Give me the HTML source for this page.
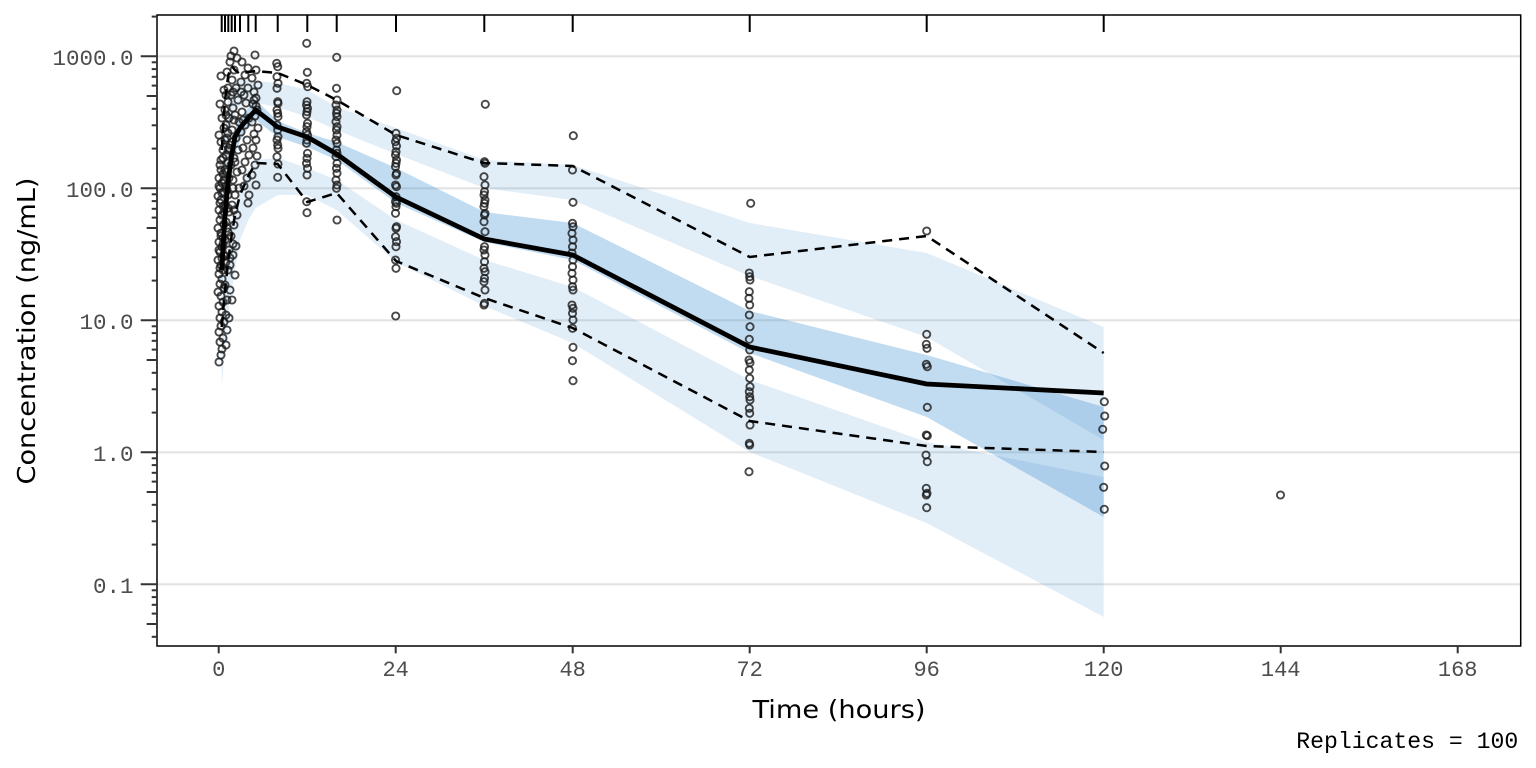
<!DOCTYPE html>
<html><head><meta charset="utf-8"><style>
html,body{margin:0;padding:0;background:#fff;}
svg{display:block;}
.p{fill:none;stroke:#1a1a1a;stroke-opacity:.8;stroke-width:1.9;}
.yt{font-family:"Liberation Mono",monospace;font-size:22.5px;fill:#4d4d4d;text-anchor:end;}
.xt{font-family:"Liberation Mono",monospace;font-size:22px;fill:#4d4d4d;text-anchor:middle;}
.ttl{font-family:"DejaVu Sans","Liberation Sans",sans-serif;font-size:25px;fill:#000;text-anchor:middle;}
</style></head><body>
<svg width="1536" height="768" viewBox="0 0 1536 768" xmlns="http://www.w3.org/2000/svg">
<rect x="0" y="0" width="1536" height="768" fill="#fff"/>
<g stroke="#e3e3e3" stroke-width="2.2">
<line x1="157" x2="1520.7" y1="56.3" y2="56.3"/>
<line x1="157" x2="1520.7" y1="188.3" y2="188.3"/>
<line x1="157" x2="1520.7" y1="320.3" y2="320.3"/>
<line x1="157" x2="1520.7" y1="452.3" y2="452.3"/>
<line x1="157" x2="1520.7" y1="584.3" y2="584.3"/>
</g>
<g fill="#3388cc">
<polygon fill-opacity="0.15" points="221.7,180 225,130 228.3,100 231.7,88 235,82 240,80 248.3,80 255.7,81 277.7,83 307.3,90 336.7,107 396,128 484.3,160 572.7,165 749.7,223 926.7,253 1103.7,327 1103.7,440 926.7,337 749.7,276 572.7,200 484.3,188 396,154 336.7,130 307.3,117 277.7,107 255.7,103 248.3,104 240,106 235,112 231.7,125 228.3,150 225,185 221.7,240"/>
<polygon fill-opacity="0.3" points="221.7,230 225,195 228.3,165 231.7,145 235,128 240,118 248.3,108 255.7,100 277.7,121 307.3,133 336.7,142 396,168 484.3,212 572.7,223 749.7,311 926.7,355 1103.7,407 1103.7,517 926.7,417 749.7,353 572.7,260 484.3,242 396,203 336.7,160 307.3,147 277.7,137 255.7,120 248.3,128 240,140 235,155 231.7,175 228.3,205 225,245 221.7,300"/>
<polygon fill-opacity="0.15" points="221.7,300 225,265 228.3,240 231.7,220 235,205 240,188 248.3,170 255.7,160 277.7,158 307.3,168 336.7,180 396,220 484.3,260 572.7,287 749.7,380 926.7,442 1103.7,477 1103.7,617 926.7,523 749.7,452 572.7,343 484.3,306 396,262 336.7,210 307.3,195 277.7,195 255.7,208 248.3,220 240,240 235,270 231.7,290 228.3,312 225,345 221.7,388"/>
</g>
<g class="p">
<circle r="3.6" cx="219" cy="362"/><circle r="3.6" cx="221" cy="355"/><circle r="3.6" cx="222" cy="349"/><circle r="3.6" cx="220" cy="342"/><circle r="3.6" cx="223" cy="338"/><circle r="3.6" cx="219" cy="332"/><circle r="3.6" cx="221" cy="326"/><circle r="3.6" cx="224" cy="322"/><circle r="3.6" cx="220" cy="318"/><circle r="3.6" cx="222" cy="312"/><circle r="3.6" cx="219" cy="306"/><circle r="3.6" cx="223" cy="302"/><circle r="3.6" cx="221" cy="296"/><circle r="3.6" cx="218" cy="292"/><circle r="3.6" cx="224" cy="288"/><circle r="3.6" cx="220" cy="284"/><circle r="3.6" cx="222" cy="279"/><circle r="3.6" cx="219" cy="274"/><circle r="3.6" cx="223" cy="270"/><circle r="3.6" cx="221" cy="265"/><circle r="3.6" cx="218" cy="260"/><circle r="3.6" cx="224" cy="256"/><circle r="3.6" cx="220" cy="252"/><circle r="3.6" cx="222" cy="247"/><circle r="3.6" cx="219" cy="242"/><circle r="3.6" cx="223" cy="238"/><circle r="3.6" cx="221" cy="233"/><circle r="3.6" cx="218" cy="228"/><circle r="3.6" cx="224" cy="224"/><circle r="3.6" cx="220" cy="220"/><circle r="3.6" cx="222" cy="215"/><circle r="3.6" cx="219" cy="210"/><circle r="3.6" cx="223" cy="206"/><circle r="3.6" cx="221" cy="200"/><circle r="3.6" cx="218" cy="196"/><circle r="3.6" cx="224" cy="192"/><circle r="3.6" cx="220" cy="188"/><circle r="3.6" cx="222" cy="183"/><circle r="3.6" cx="219" cy="178"/><circle r="3.6" cx="223" cy="174"/><circle r="3.6" cx="221" cy="170"/>
<circle r="3.6" cx="220" cy="268"/><circle r="3.6" cx="222" cy="258"/><circle r="3.6" cx="219" cy="250"/><circle r="3.6" cx="223" cy="244"/><circle r="3.6" cx="221" cy="236"/><circle r="3.6" cx="224" cy="212"/><circle r="3.6" cx="220" cy="203"/><circle r="3.6" cx="222" cy="193"/><circle r="3.6" cx="219" cy="186"/><circle r="3.6" cx="224" cy="180"/><circle r="3.6" cx="220" cy="165"/><circle r="3.6" cx="223" cy="158"/><circle r="3.6" cx="221" cy="142"/><circle r="3.6" cx="224" cy="128"/>
<circle r="3.6" cx="226" cy="345"/><circle r="3.6" cx="227" cy="330"/><circle r="3.6" cx="226" cy="315"/><circle r="3.6" cx="229" cy="318"/><circle r="3.6" cx="227" cy="300"/><circle r="3.6" cx="225" cy="285"/><circle r="3.6" cx="228" cy="270"/><circle r="3.6" cx="226" cy="262"/><circle r="3.6" cx="229" cy="250"/><circle r="3.6" cx="225" cy="240"/><circle r="3.6" cx="228" cy="232"/><circle r="3.6" cx="226" cy="222"/><circle r="3.6" cx="229" cy="212"/><circle r="3.6" cx="225" cy="205"/><circle r="3.6" cx="228" cy="195"/><circle r="3.6" cx="226" cy="186"/><circle r="3.6" cx="229" cy="178"/><circle r="3.6" cx="225" cy="170"/><circle r="3.6" cx="228" cy="163"/><circle r="3.6" cx="226" cy="155"/><circle r="3.6" cx="229" cy="148"/><circle r="3.6" cx="225" cy="140"/><circle r="3.6" cx="228" cy="133"/><circle r="3.6" cx="226" cy="125"/><circle r="3.6" cx="229" cy="118"/><circle r="3.6" cx="225" cy="110"/><circle r="3.6" cx="228" cy="102"/><circle r="3.6" cx="226" cy="95"/><circle r="3.6" cx="223" cy="150"/><circle r="3.6" cx="221" cy="160"/><circle r="3.6" cx="219" cy="135"/><circle r="3.6" cx="222" cy="118"/><circle r="3.6" cx="220" cy="104"/><circle r="3.6" cx="224" cy="90"/><circle r="3.6" cx="221" cy="76"/><circle r="3.6" cx="230" cy="258"/><circle r="3.6" cx="233" cy="244"/><circle r="3.6" cx="232" cy="300"/><circle r="3.6" cx="230" cy="290"/>
<circle r="3.6" cx="227" cy="228"/><circle r="3.6" cx="228" cy="208"/><circle r="3.6" cx="227" cy="190"/><circle r="3.6" cx="226" cy="172"/><circle r="3.6" cx="228" cy="150"/><circle r="3.6" cx="227" cy="138"/><circle r="3.6" cx="226" cy="115"/><circle r="3.6" cx="228" cy="88"/><circle r="3.6" cx="227" cy="72"/>
<circle r="3.6" cx="231" cy="56"/><circle r="3.6" cx="234" cy="51"/><circle r="3.6" cx="230" cy="62"/><circle r="3.6" cx="234" cy="70"/><circle r="3.6" cx="237" cy="58"/><circle r="3.6" cx="232" cy="80"/><circle r="3.6" cx="236" cy="88"/><circle r="3.6" cx="231" cy="95"/><circle r="3.6" cx="238" cy="100"/><circle r="3.6" cx="233" cy="108"/><circle r="3.6" cx="235" cy="115"/><circle r="3.6" cx="239" cy="122"/><circle r="3.6" cx="232" cy="130"/><circle r="3.6" cx="236" cy="138"/><circle r="3.6" cx="230" cy="145"/><circle r="3.6" cx="238" cy="150"/><circle r="3.6" cx="234" cy="158"/><circle r="3.6" cx="231" cy="165"/><circle r="3.6" cx="237" cy="172"/><circle r="3.6" cx="233" cy="180"/><circle r="3.6" cx="239" cy="188"/><circle r="3.6" cx="235" cy="195"/><circle r="3.6" cx="232" cy="205"/><circle r="3.6" cx="237" cy="215"/><circle r="3.6" cx="234" cy="225"/><circle r="3.6" cx="231" cy="236"/><circle r="3.6" cx="236" cy="246"/><circle r="3.6" cx="233" cy="255"/><circle r="3.6" cx="230" cy="265"/><circle r="3.6" cx="235" cy="275"/>
<circle r="3.6" cx="233" cy="92"/><circle r="3.6" cx="234" cy="120"/><circle r="3.6" cx="232" cy="142"/><circle r="3.6" cx="235" cy="162"/><circle r="3.6" cx="233" cy="188"/><circle r="3.6" cx="234" cy="210"/>
<circle r="3.6" cx="242" cy="62"/><circle r="3.6" cx="245" cy="75"/><circle r="3.6" cx="241" cy="82"/><circle r="3.6" cx="248" cy="88"/><circle r="3.6" cx="244" cy="95"/><circle r="3.6" cx="246" cy="103"/><circle r="3.6" cx="242" cy="112"/><circle r="3.6" cx="249" cy="118"/><circle r="3.6" cx="245" cy="125"/><circle r="3.6" cx="241" cy="132"/><circle r="3.6" cx="247" cy="140"/><circle r="3.6" cx="243" cy="148"/><circle r="3.6" cx="249" cy="155"/><circle r="3.6" cx="245" cy="162"/><circle r="3.6" cx="242" cy="170"/><circle r="3.6" cx="247" cy="178"/><circle r="3.6" cx="244" cy="186"/><circle r="3.6" cx="249" cy="195"/><circle r="3.6" cx="248" cy="203"/><circle r="3.6" cx="241" cy="92"/><circle r="3.6" cx="248" cy="68"/><circle r="3.6" cx="243" cy="120"/>
<circle r="3.6" cx="255" cy="55"/><circle r="3.6" cx="256" cy="70"/><circle r="3.6" cx="252" cy="78"/><circle r="3.6" cx="258" cy="85"/><circle r="3.6" cx="254" cy="92"/><circle r="3.6" cx="256" cy="98"/><circle r="3.6" cx="253" cy="104"/><circle r="3.6" cx="257" cy="110"/><circle r="3.6" cx="255" cy="116"/><circle r="3.6" cx="252" cy="122"/><circle r="3.6" cx="258" cy="128"/><circle r="3.6" cx="254" cy="134"/><circle r="3.6" cx="256" cy="140"/><circle r="3.6" cx="253" cy="148"/><circle r="3.6" cx="257" cy="156"/><circle r="3.6" cx="255" cy="165"/><circle r="3.6" cx="252" cy="175"/><circle r="3.6" cx="256" cy="185"/><circle r="3.6" cx="254" cy="100"/><circle r="3.6" cx="256" cy="106"/>
<circle r="3.6" cx="276.7" cy="63.3"/><circle r="3.6" cx="277.7" cy="66.7"/><circle r="3.6" cx="277" cy="76.7"/><circle r="3.6" cx="278" cy="83.3"/><circle r="3.6" cx="277" cy="88.3"/><circle r="3.6" cx="277.7" cy="101.7"/><circle r="3.6" cx="278" cy="103.3"/><circle r="3.6" cx="277" cy="110"/><circle r="3.6" cx="277.7" cy="113.3"/><circle r="3.6" cx="278" cy="116.7"/><circle r="3.6" cx="277" cy="125"/><circle r="3.6" cx="277.7" cy="130"/><circle r="3.6" cx="278" cy="136.7"/><circle r="3.6" cx="277" cy="140"/><circle r="3.6" cx="277.7" cy="145"/><circle r="3.6" cx="278" cy="148.3"/><circle r="3.6" cx="277" cy="156.7"/><circle r="3.6" cx="278" cy="164"/><circle r="3.6" cx="277.7" cy="177.3"/>
<circle r="3.6" cx="306.7" cy="43.3"/><circle r="3.6" cx="307.3" cy="72.3"/><circle r="3.6" cx="306.7" cy="83.3"/><circle r="3.6" cx="307.7" cy="86.7"/><circle r="3.6" cx="307" cy="101.7"/><circle r="3.6" cx="306.5" cy="105"/><circle r="3.6" cx="307.5" cy="108.3"/><circle r="3.6" cx="307" cy="111.7"/><circle r="3.6" cx="306.5" cy="115"/><circle r="3.6" cx="307.5" cy="123.3"/><circle r="3.6" cx="307" cy="126.7"/><circle r="3.6" cx="306.5" cy="131.7"/><circle r="3.6" cx="307.5" cy="135"/><circle r="3.6" cx="307" cy="140"/><circle r="3.6" cx="306.5" cy="143.3"/><circle r="3.6" cx="307.5" cy="153.3"/><circle r="3.6" cx="307" cy="158.3"/><circle r="3.6" cx="306.5" cy="163.3"/><circle r="3.6" cx="307.5" cy="168.3"/><circle r="3.6" cx="307" cy="175"/><circle r="3.6" cx="306.7" cy="201.7"/><circle r="3.6" cx="307" cy="212.7"/>
<circle r="3.6" cx="336.7" cy="57.3"/><circle r="3.6" cx="336.5" cy="88.3"/><circle r="3.6" cx="337" cy="100"/><circle r="3.6" cx="336" cy="105"/><circle r="3.6" cx="337" cy="110"/><circle r="3.6" cx="336.5" cy="113.3"/><circle r="3.6" cx="337" cy="116.7"/><circle r="3.6" cx="336" cy="121.7"/><circle r="3.6" cx="337" cy="126.7"/><circle r="3.6" cx="336.5" cy="130"/><circle r="3.6" cx="337" cy="135"/><circle r="3.6" cx="336" cy="140"/><circle r="3.6" cx="337" cy="143.3"/><circle r="3.6" cx="336.5" cy="150"/><circle r="3.6" cx="337" cy="153.3"/><circle r="3.6" cx="336" cy="156.7"/><circle r="3.6" cx="337" cy="163.3"/><circle r="3.6" cx="336.5" cy="168.3"/><circle r="3.6" cx="337" cy="173.3"/><circle r="3.6" cx="336" cy="180"/><circle r="3.6" cx="337" cy="185"/><circle r="3.6" cx="336.5" cy="188.3"/><circle r="3.6" cx="337" cy="220"/>
<circle r="3.6" cx="396.7" cy="90.7"/><circle r="3.6" cx="396" cy="133.3"/><circle r="3.6" cx="396.5" cy="138.3"/><circle r="3.6" cx="395.5" cy="141.7"/><circle r="3.6" cx="396.5" cy="146"/><circle r="3.6" cx="396" cy="151.7"/><circle r="3.6" cx="395.5" cy="155"/><circle r="3.6" cx="396.5" cy="160"/><circle r="3.6" cx="396" cy="163.3"/><circle r="3.6" cx="395.5" cy="166.7"/><circle r="3.6" cx="396.5" cy="173.3"/><circle r="3.6" cx="396" cy="175"/><circle r="3.6" cx="395.5" cy="185"/><circle r="3.6" cx="396.5" cy="186.7"/><circle r="3.6" cx="396" cy="196.7"/><circle r="3.6" cx="395.5" cy="201.7"/><circle r="3.6" cx="396.5" cy="203.3"/><circle r="3.6" cx="396" cy="206.7"/><circle r="3.6" cx="395.5" cy="213.3"/><circle r="3.6" cx="396.5" cy="226.7"/><circle r="3.6" cx="396" cy="228.3"/><circle r="3.6" cx="395.5" cy="236.7"/><circle r="3.6" cx="396.5" cy="241.7"/><circle r="3.6" cx="396" cy="246.7"/><circle r="3.6" cx="395.5" cy="260"/><circle r="3.6" cx="396" cy="268.3"/><circle r="3.6" cx="395.7" cy="316"/>
<circle r="3.6" cx="485.3" cy="104.3"/><circle r="3.6" cx="484.5" cy="161.7"/><circle r="3.6" cx="485" cy="163.3"/><circle r="3.6" cx="484" cy="176.7"/><circle r="3.6" cx="485" cy="185"/><circle r="3.6" cx="484.5" cy="191.7"/><circle r="3.6" cx="484" cy="195"/><circle r="3.6" cx="485" cy="200"/><circle r="3.6" cx="484.5" cy="203.3"/><circle r="3.6" cx="484" cy="206.7"/><circle r="3.6" cx="485" cy="213.3"/><circle r="3.6" cx="484.5" cy="215"/><circle r="3.6" cx="484" cy="221.7"/><circle r="3.6" cx="485" cy="231.7"/><circle r="3.6" cx="484.5" cy="246.7"/><circle r="3.6" cx="484" cy="250"/><circle r="3.6" cx="485" cy="255"/><circle r="3.6" cx="484.5" cy="261.7"/><circle r="3.6" cx="484" cy="268.3"/><circle r="3.6" cx="485" cy="271.7"/><circle r="3.6" cx="484.5" cy="278.3"/><circle r="3.6" cx="484" cy="281.7"/><circle r="3.6" cx="485" cy="290"/><circle r="3.6" cx="484.5" cy="303.3"/><circle r="3.6" cx="484" cy="305"/>
<circle r="3.6" cx="573.3" cy="135.7"/><circle r="3.6" cx="572.5" cy="170"/><circle r="3.6" cx="573" cy="202.3"/><circle r="3.6" cx="572.5" cy="223.3"/><circle r="3.6" cx="573" cy="226.7"/><circle r="3.6" cx="572" cy="233.3"/><circle r="3.6" cx="573" cy="240"/><circle r="3.6" cx="572.5" cy="246.7"/><circle r="3.6" cx="572" cy="253"/><circle r="3.6" cx="573" cy="260"/><circle r="3.6" cx="572.5" cy="266.7"/><circle r="3.6" cx="572" cy="273.3"/><circle r="3.6" cx="573" cy="280"/><circle r="3.6" cx="572.5" cy="286.7"/><circle r="3.6" cx="573" cy="290"/><circle r="3.6" cx="572" cy="305"/><circle r="3.6" cx="573" cy="308.3"/><circle r="3.6" cx="572.5" cy="313.3"/><circle r="3.6" cx="573" cy="320"/><circle r="3.6" cx="572.5" cy="328.3"/><circle r="3.6" cx="573" cy="347.3"/><circle r="3.6" cx="572.5" cy="360.7"/><circle r="3.6" cx="573" cy="380.7"/>
<circle r="3.6" cx="750.7" cy="203.3"/><circle r="3.6" cx="749.3" cy="273"/><circle r="3.6" cx="749.7" cy="276.7"/><circle r="3.6" cx="750" cy="280"/><circle r="3.6" cx="749.3" cy="291.7"/><circle r="3.6" cx="749" cy="298.3"/><circle r="3.6" cx="749.7" cy="305"/><circle r="3.6" cx="749.3" cy="315"/><circle r="3.6" cx="750" cy="326.7"/><circle r="3.6" cx="749.3" cy="339.3"/><circle r="3.6" cx="749.7" cy="350"/><circle r="3.6" cx="749" cy="360"/><circle r="3.6" cx="750" cy="362.7"/><circle r="3.6" cx="749.3" cy="370"/><circle r="3.6" cx="749.7" cy="378.3"/><circle r="3.6" cx="750" cy="386.7"/><circle r="3.6" cx="749.3" cy="391.7"/><circle r="3.6" cx="749.7" cy="396.7"/><circle r="3.6" cx="750" cy="400"/><circle r="3.6" cx="749.3" cy="408.3"/><circle r="3.6" cx="749.7" cy="413.3"/><circle r="3.6" cx="750" cy="425"/><circle r="3.6" cx="749.3" cy="443.3"/><circle r="3.6" cx="749.7" cy="445"/><circle r="3.6" cx="749" cy="471.7"/>
<circle r="3.6" cx="926.7" cy="231"/><circle r="3.6" cx="926.7" cy="334.3"/><circle r="3.6" cx="926.3" cy="344.3"/><circle r="3.6" cx="927" cy="348.3"/><circle r="3.6" cx="926.3" cy="364.3"/><circle r="3.6" cx="927.3" cy="366.7"/><circle r="3.6" cx="927.3" cy="407.3"/><circle r="3.6" cx="926.3" cy="435"/><circle r="3.6" cx="927.3" cy="435.7"/><circle r="3.6" cx="926" cy="455"/><circle r="3.6" cx="927.3" cy="461.7"/><circle r="3.6" cx="926.3" cy="488.3"/><circle r="3.6" cx="927" cy="493.3"/><circle r="3.6" cx="926.3" cy="495"/><circle r="3.6" cx="926.7" cy="507.7"/>
<circle r="3.6" cx="1104.3" cy="401.7"/><circle r="3.6" cx="1104.7" cy="416"/><circle r="3.6" cx="1102.7" cy="429.3"/><circle r="3.6" cx="1104.7" cy="466"/><circle r="3.6" cx="1103.7" cy="487.3"/><circle r="3.6" cx="1104.3" cy="509.3"/>
<circle r="3.6" cx="1280.5" cy="495"/>
</g>
<g fill="none" stroke="#000">
<polyline stroke-width="2.5" stroke-dasharray="10 7" points="221.7,150 225,100 228.3,75 231.7,66 235,70 240,74 248.3,72 255.7,71 277.7,73 307.3,85 336.7,100 396,135 484.3,163 572.7,166 749.7,257 926.7,236 1103.7,353"/>
<polyline stroke-width="2.5" stroke-dasharray="10 7" points="221.7,327 225,290 228.3,260 231.7,235 235,215 240,195 248.3,176 255.7,163 277.7,164 307.3,202 336.7,193 396,261 484.3,298 572.7,328 749.7,421 926.7,446 1103.7,452"/>
<polyline stroke-width="4.8" stroke-linejoin="round" points="221.7,270 225,215 228.3,180 231.7,155 235,137 240,128 248.3,118 255.7,110 277.7,127 307.3,137 336.7,154 396,197 484.3,239 572.7,255 749.7,347 926.7,384 1103.7,393"/>
</g>
<rect x="157" y="15" width="1363.7" height="631" fill="none" stroke="#000" stroke-width="1.5"/>
<g stroke="#000" stroke-width="2">
<line x1="221.7" x2="221.7" y1="15" y2="32"/><line x1="225" x2="225" y1="15" y2="32"/><line x1="228.3" x2="228.3" y1="15" y2="32"/><line x1="231.7" x2="231.7" y1="15" y2="32"/><line x1="235" x2="235" y1="15" y2="32"/><line x1="240" x2="240" y1="15" y2="32"/><line x1="248.3" x2="248.3" y1="15" y2="32"/><line x1="255.7" x2="255.7" y1="15" y2="32"/><line x1="277.7" x2="277.7" y1="15" y2="32"/><line x1="307.3" x2="307.3" y1="15" y2="32"/><line x1="336.7" x2="336.7" y1="15" y2="32"/><line x1="396" x2="396" y1="15" y2="32"/><line x1="484.3" x2="484.3" y1="15" y2="32"/><line x1="572.7" x2="572.7" y1="15" y2="32"/><line x1="749.7" x2="749.7" y1="15" y2="32"/><line x1="926.7" x2="926.7" y1="15" y2="32"/><line x1="1103.7" x2="1103.7" y1="15" y2="32"/>
</g>
<g stroke="#333" stroke-width="2">
<line x1="140.7" x2="157" y1="56.3" y2="56.3"/><line x1="140.7" x2="157" y1="188.3" y2="188.3"/><line x1="140.7" x2="157" y1="320.3" y2="320.3"/><line x1="140.7" x2="157" y1="452.3" y2="452.3"/><line x1="140.7" x2="157" y1="584.3" y2="584.3"/>
<line x1="146.7" x2="157" y1="96.0" y2="96.0"/><line x1="146.7" x2="157" y1="228.0" y2="228.0"/><line x1="146.7" x2="157" y1="360.0" y2="360.0"/><line x1="146.7" x2="157" y1="492.0" y2="492.0"/><line x1="146.7" x2="157" y1="624.0" y2="624.0"/>
<line x1="151.7" x2="157" y1="16.6" y2="16.6"/>
<line x1="151.7" x2="157" y1="148.6" y2="148.6"/><line x1="151.7" x2="157" y1="125.3" y2="125.3"/><line x1="151.7" x2="157" y1="108.8" y2="108.8"/><line x1="151.7" x2="157" y1="85.6" y2="85.6"/><line x1="151.7" x2="157" y1="76.8" y2="76.8"/><line x1="151.7" x2="157" y1="69.1" y2="69.1"/><line x1="151.7" x2="157" y1="62.3" y2="62.3"/>
<line x1="151.7" x2="157" y1="280.6" y2="280.6"/><line x1="151.7" x2="157" y1="257.3" y2="257.3"/><line x1="151.7" x2="157" y1="240.8" y2="240.8"/><line x1="151.7" x2="157" y1="217.6" y2="217.6"/><line x1="151.7" x2="157" y1="208.8" y2="208.8"/><line x1="151.7" x2="157" y1="201.1" y2="201.1"/><line x1="151.7" x2="157" y1="194.3" y2="194.3"/>
<line x1="151.7" x2="157" y1="412.6" y2="412.6"/><line x1="151.7" x2="157" y1="389.3" y2="389.3"/><line x1="151.7" x2="157" y1="372.8" y2="372.8"/><line x1="151.7" x2="157" y1="349.6" y2="349.6"/><line x1="151.7" x2="157" y1="340.8" y2="340.8"/><line x1="151.7" x2="157" y1="333.1" y2="333.1"/><line x1="151.7" x2="157" y1="326.3" y2="326.3"/>
<line x1="151.7" x2="157" y1="544.6" y2="544.6"/><line x1="151.7" x2="157" y1="521.3" y2="521.3"/><line x1="151.7" x2="157" y1="504.8" y2="504.8"/><line x1="151.7" x2="157" y1="481.6" y2="481.6"/><line x1="151.7" x2="157" y1="472.8" y2="472.8"/><line x1="151.7" x2="157" y1="465.1" y2="465.1"/><line x1="151.7" x2="157" y1="458.3" y2="458.3"/>
<line x1="151.7" x2="157" y1="636.8" y2="636.8"/><line x1="151.7" x2="157" y1="613.6" y2="613.6"/><line x1="151.7" x2="157" y1="604.8" y2="604.8"/><line x1="151.7" x2="157" y1="597.1" y2="597.1"/><line x1="151.7" x2="157" y1="590.3" y2="590.3"/>
</g>
<g stroke="#333" stroke-width="2">
<line x1="218.7" x2="218.7" y1="646" y2="653.3"/><line x1="395.7" x2="395.7" y1="646" y2="653.3"/><line x1="572.7" x2="572.7" y1="646" y2="653.3"/><line x1="749.7" x2="749.7" y1="646" y2="653.3"/><line x1="926.7" x2="926.7" y1="646" y2="653.3"/><line x1="1103.7" x2="1103.7" y1="646" y2="653.3"/><line x1="1280.7" x2="1280.7" y1="646" y2="653.3"/><line x1="1457.7" x2="1457.7" y1="646" y2="653.3"/>
</g>
<text class="yt" x="133.5" y="64.8">1000.0</text>
<text class="yt" x="133.5" y="196.8">100.0</text>
<text class="yt" x="133.5" y="328.8">10.0</text>
<text class="yt" x="133.5" y="460.8">1.0</text>
<text class="yt" x="133.5" y="592.8">0.1</text>
<text class="xt" x="218.7" y="676">0</text>
<text class="xt" x="395.7" y="676">24</text>
<text class="xt" x="572.7" y="676">48</text>
<text class="xt" x="749.7" y="676">72</text>
<text class="xt" x="926.7" y="676">96</text>
<text class="xt" x="1103.7" y="676">120</text>
<text class="xt" x="1280.7" y="676">144</text>
<text class="xt" x="1457.7" y="676">168</text>
<text class="ttl" x="839" y="718" textLength="173" lengthAdjust="spacingAndGlyphs">Time (hours)</text>
<text class="ttl" transform="translate(35,331) rotate(-90)" x="0" y="0" textLength="307" lengthAdjust="spacingAndGlyphs">Concentration (ng/mL)</text>
<text x="1518.3" y="748" font-family="Liberation Mono, monospace" font-size="23" fill="#000" text-anchor="end" textLength="222" lengthAdjust="spacingAndGlyphs">Replicates = 100</text>
</svg>
</body></html>
